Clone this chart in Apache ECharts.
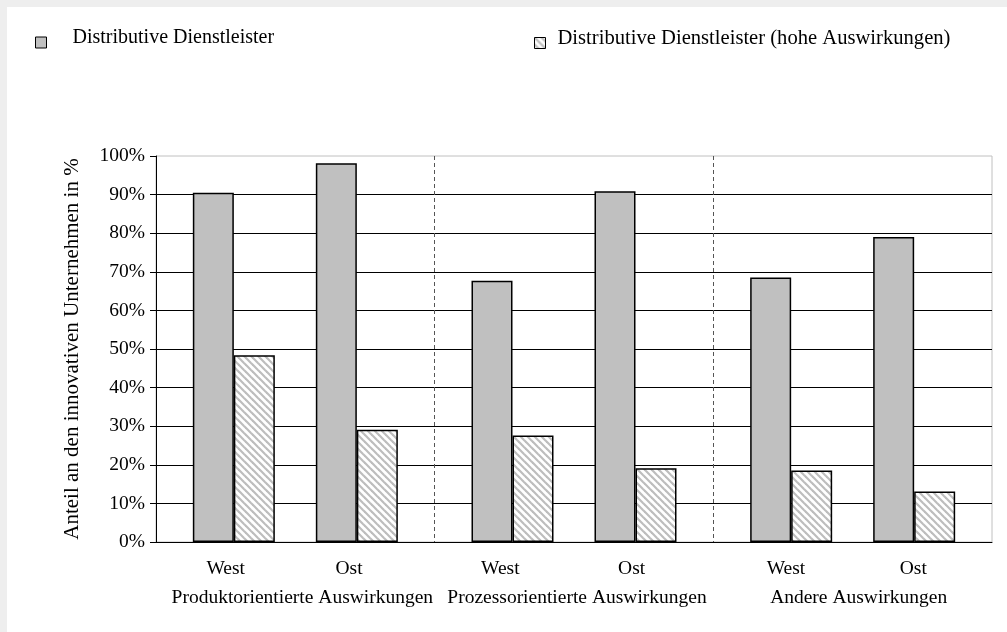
<!DOCTYPE html>
<html><head><meta charset="utf-8">
<script src="https://cdn.jsdelivr.net/npm/echarts@6/dist/echarts.min.js"></script>
<style>html,body{margin:0;padding:0;background:#eeeeee;}#c{width:1007px;height:632px;}</style>
</head><body><div id="c"></div>
<script>
// ---- data ----
const groups = ['Produktorientierte Auswirkungen', 'Prozessorientierte Auswirkungen', 'Andere Auswirkungen'];
const regions = ['West', 'Ost'];
const seriesNames = ['Distributive Dienstleister', 'Distributive Dienstleister (hohe Auswirkungen)'];
const westAll  = [90.5, 67.7, 68.5];
const westHigh = [48.4, 27.6, 18.5];
const ostAll   = [98.1, 90.9, 79.0];
const ostHigh  = [29.1, 19.1, 13.1];
const yTickLabels = ['0%','10%','20%','30%','40%','50%','60%','70%','80%','90%','100%'];
const yAxisTitle = 'Anteil an den innovativen Unternehmen in %';

// ---- styles ----
const FONT = 'Liberation Serif';
const regionShift = [0, -16, -4, -12, 3, -9];
const groupShift = [7, 3, 6];

function hatchCanvas() {
  const s = 7, c = document.createElement('canvas');
  c.width = s; c.height = s;
  const g = c.getContext('2d');
  g.fillStyle = '#ffffff'; g.fillRect(0, 0, s, s);
  g.strokeStyle = '#bdbdbd'; g.lineWidth = 2.2;
  for (const k of [-s, 0, s]) {
    g.beginPath(); g.moveTo(-1, -1 + k); g.lineTo(s + 1, s + 1 + k); g.stroke();
  }
  return c;
}
const hatch = { image: hatchCanvas(), repeat: 'repeat' };

const regionCats = [];
groups.forEach(() => regions.forEach(r => regionCats.push(r)));

function shiftRich(prefix, shifts, size) {
  const rich = {};
  shifts.forEach((d, i) => {
    rich[prefix + i] = {
      fontFamily: FONT, fontSize: size, color: '#000',
      padding: d >= 0 ? [0, 0, 0, 2 * d] : [0, -2 * d, 0, 0]
    };
  });
  return rich;
}

const greyStyle = { color: '#c0c0c0', borderColor: '#000', borderWidth: 1.5 };
const hatchStyle = { color: hatch, borderColor: '#000', borderWidth: 1.5 };

function legendFor(i, left, size, gap) {
  return {
    data: [seriesNames[i]], left: left, top: 28, padding: 0, itemWidth: 11, itemHeight: 11, icon: 'rect',
    itemStyle: { borderColor: '#000', borderWidth: 1 },
    formatter: '{t|{name}}',
    textStyle: { fontFamily: FONT, fontSize: size, color: '#000',
      rich: { t: { fontFamily: FONT, fontSize: size, color: '#000', padding: [0, 0, 9, gap] } } }
  };
}

const chart = echarts.init(document.getElementById('c'), null, { renderer: 'canvas' });
chart.setOption({
  animation: false,
  backgroundColor: '#eeeeee',
  graphic: [{ type: 'rect', left: 7, top: 7, shape: { width: 1000, height: 625 }, style: { fill: '#ffffff' }, z: -10 }],
  legend: [legendFor(0, 35, 20, 21), legendFor(1, 534, 20.6, 7)],
  grid: { left: 156, right: 15, top: 156, bottom: 90, show: true, borderColor: '#c0c0c0', borderWidth: 1, backgroundColor: 'transparent' },
  xAxis: [
    { type: 'category', data: groups, position: 'bottom',
      axisLine: { lineStyle: { color: '#000', width: 1 } },
      axisTick: { length: 7, lineStyle: { color: '#000' } },
      axisLabel: { interval: 0, margin: 46, formatter: (v, i) => '{g' + i + '|' + v + '}', rich: shiftRich('g', groupShift, 19.5) },
      splitLine: { show: true, showMinLine: false, showMaxLine: false, lineStyle: { color: '#555', type: [4, 3], width: 1 } } },
    { type: 'category', data: regionCats, position: 'bottom', offset: 0,
      axisLine: { show: false }, axisTick: { show: false }, splitLine: { show: false },
      axisLabel: { interval: 0, margin: 17, formatter: (v, i) => '{r' + i + '|' + v + '}', rich: shiftRich('r', regionShift, 19.5) } }
  ],
  yAxis: {
    type: 'value', min: 0, max: 100, interval: 10,
    name: yAxisTitle, nameLocation: 'middle', nameGap: 73, nameRotate: 90,
    nameTextStyle: { fontFamily: FONT, fontSize: 21, color: '#000' },
    axisLine: { show: true, lineStyle: { color: '#000', width: 1 } },
    axisTick: { show: true, length: 6, lineStyle: { color: '#000' } },
    axisLabel: { margin: 11, fontFamily: FONT, fontSize: 19.5, color: '#000', formatter: (v) => yTickLabels[Math.round(v / 10)] },
    splitLine: { show: true, showMaxLine: false, lineStyle: { color: '#000', width: 1 } }
  },
  series: [
    { name: seriesNames[0], type: 'bar', xAxisIndex: 0, data: westAll, barWidth: 41, barGap: '0%', itemStyle: greyStyle },
    { name: seriesNames[1], type: 'bar', xAxisIndex: 0, data: westHigh, barWidth: 41, barGap: '0%', itemStyle: hatchStyle },
    { name: 'spacer', type: 'bar', xAxisIndex: 0, data: groups.map(() => null), barWidth: 41, barGap: '0%', itemStyle: { color: 'transparent' } },
    { name: seriesNames[0], type: 'bar', xAxisIndex: 0, data: ostAll, barWidth: 41, barGap: '0%', itemStyle: greyStyle },
    { name: seriesNames[1], type: 'bar', xAxisIndex: 0, data: ostHigh, barWidth: 41, barGap: '0%', itemStyle: hatchStyle }
  ]
});
</script></body></html>
